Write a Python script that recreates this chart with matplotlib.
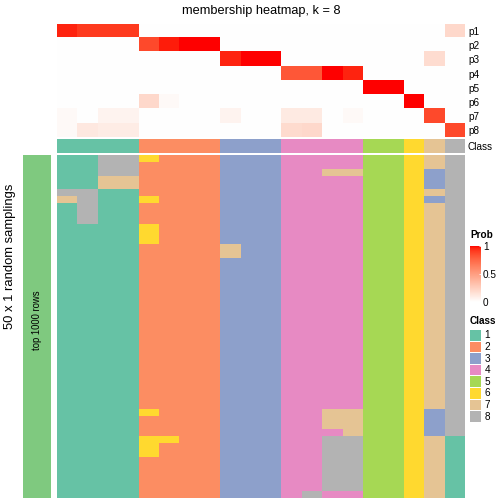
import numpy as np
import matplotlib
matplotlib.use("Agg")
import matplotlib.pyplot as plt
from matplotlib.colors import ListedColormap
from matplotlib.patches import Rectangle

plt.rcParams['font.family'] = ['Liberation Sans', 'DejaVu Sans']

# class colours (1..8)
class_colors = ['#66C2A5', '#FC8D62', '#8DA0CB', '#E78AC3',
                '#A6D854', '#FFD92F', '#E5C494', '#B3B3B3']
class_labels = ['1', '2', '3', '4', '5', '6', '7', '8']

# class of each of the 20 samples
sample_class = [1, 1, 1, 1, 2, 2, 2, 2, 3, 3, 3, 4, 4, 4, 4, 5, 5, 6, 7, 8]

# membership probabilities p1..p8 per sample
row_names = ['p1', 'p2', 'p3', 'p4', 'p5', 'p6', 'p7', 'p8']
p1 = [0.96, 0.91, 0.91, 0.91, 0, 0, 0, 0, 0, 0, 0, 0, 0, 0, 0, 0, 0, 0, 0, 0.2]
p2 = [0, 0, 0, 0, 0.86, 0.97, 1, 1, 0, 0, 0, 0, 0, 0, 0, 0, 0, 0, 0, 0]
p3 = [0, 0, 0, 0, 0, 0, 0, 0, 0.96, 1, 1, 0, 0, 0, 0, 0, 0, 0, 0.18, 0]
p4 = [0, 0, 0, 0, 0, 0, 0, 0, 0, 0, 0, 0.81, 0.81, 1, 0.96, 0, 0, 0, 0, 0]
p5 = [0, 0, 0, 0, 0, 0, 0, 0, 0, 0, 0, 0, 0, 0, 0, 1, 1, 0, 0, 0]
p6 = [0, 0, 0, 0, 0.2, 0.03, 0, 0, 0, 0, 0, 0, 0, 0, 0, 0, 0, 1, 0, 0]
p7 = [0.03, 0, 0.06, 0.06, 0, 0, 0, 0, 0.06, 0, 0, 0.11, 0.11, 0, 0.03, 0, 0, 0, 0.86, 0]
p8 = [0.03, 0.12, 0.1, 0.1, 0, 0, 0, 0, 0, 0, 0, 0.19, 0.2, 0, 0, 0, 0, 0, 0, 0.86]

# 50 random samplings, class assigned to each sample
samplings = [
    "11886222333444455678",
    "11882222333444455678",
    "11882222333447755638",
    "11772222333444455638",
    "11772222333444455638",
    "88112222333444455678",
    "78116222333444455638",
    "18112222333444455678",
    "18112222333444455678",
    "18112222333444455678",
    "11116222333444455678",
    "11116222333444455678",
    "11116222333444455678",
    "11112222733444455678",
    "11112222733444455678",
] + ["11112222333444455678"] * 22 + [
    "11116222333447755638",
    "11112222333447755638",
    "11112222333447755638",
    "11112222333444755638",
    "11116622333448855671",
    "11116222333448855671",
    "11116222333448855671",
    "11112222333448855671",
    "11112222333448855671",
    "11112222333448855671",
    "11112222333448855671",
    "11112222333448855671",
    "11112222333484455671",
]


def lab_ramp(c0, c1, n=256):
    # white -> red interpolated in CIE Lab, like circlize::colorRamp2
    M = np.array([[0.4124, 0.3576, 0.1805],
                  [0.2126, 0.7152, 0.0722],
                  [0.0193, 0.1192, 0.9505]])
    wp = M @ np.ones(3)

    def to_lab(rgb):
        rgb = np.asarray(rgb, float)
        lin = np.where(rgb <= 0.04045, rgb / 12.92, ((rgb + 0.055) / 1.055) ** 2.4)
        xyz = (M @ lin) / wp
        f = np.where(xyz > 0.008856, np.cbrt(xyz), 7.787 * xyz + 16 / 116)
        return np.array([116 * f[1] - 16, 500 * (f[0] - f[1]), 200 * (f[1] - f[2])])

    def to_rgb(lab):
        fy = (lab[0] + 16) / 116
        f = np.array([fy + lab[1] / 500, fy, fy - lab[2] / 200])
        xyz = np.where(f ** 3 > 0.008856, f ** 3, (f - 16 / 116) / 7.787) * wp
        lin = np.linalg.solve(M, xyz)
        lin = np.clip(lin, 0, 1)
        rgb = np.where(lin <= 0.0031308, 12.92 * lin, 1.055 * lin ** (1 / 2.4) - 0.055)
        return np.clip(rgb, 0, 1)

    a, b = to_lab(c0), to_lab(c1)
    return ListedColormap([to_rgb(a + (b - a) * t) for t in np.linspace(0, 1, n)])


prob_cmap = lab_ramp((1, 1, 1), (1, 0, 0))
class_cmap = ListedColormap(class_colors)

W = H = 504.0
fig = plt.figure(figsize=(7, 7), dpi=72)


def px_axes(x0, y0, x1, y1):
    return fig.add_axes([x0 / W, 1 - y1 / H, (x1 - x0) / W, (y1 - y0) / H])


left, right = 57, 465

# membership heatmap
ax_m = px_axes(left, 24, right, 137.5)
memb = np.array([p1, p2, p3, p4, p5, p6, p7, p8])
ax_m.imshow(memb, cmap=prob_cmap, vmin=0, vmax=1, aspect='auto', interpolation='nearest')
ax_m.set_xticks([])
ax_m.set_yticks(range(len(row_names)))
ax_m.set_yticklabels(row_names, fontsize=10)
ax_m.yaxis.tick_right()
ax_m.tick_params(axis='y', length=0, pad=3)
for s in ax_m.spines.values():
    s.set_visible(False)

# class annotation
ax_c = px_axes(left, 138.5, right, 152.7)
ax_c.imshow(np.array([sample_class]) - 1, cmap=class_cmap, vmin=-0.5, vmax=7.5,
            aspect='auto', interpolation='nearest')
ax_c.set_xticks([])
ax_c.set_yticks([0])
ax_c.set_yticklabels(['Class'], fontsize=10)
ax_c.yaxis.tick_right()
ax_c.tick_params(axis='y', length=0, pad=3)
for s in ax_c.spines.values():
    s.set_visible(False)

# random samplings
ax_s = px_axes(left, 155, right, 498)
samp = np.array([[int(ch) for ch in r] for r in samplings])
ax_s.imshow(samp - 1, cmap=class_cmap, vmin=-0.5, vmax=7.5,
            aspect='auto', interpolation='nearest')
ax_s.axis('off')

# left annotation bar
ax_g = px_axes(23, 155, 51, 498)
ax_g.set_facecolor('#7FC97F')
ax_g.set_xticks([])
ax_g.set_yticks([])
for s in ax_g.spines.values():
    s.set_visible(False)
fig.text(37 / W, 1 - 320 / H, 'top 1000 rows', rotation=90, ha='center', va='center',
         fontsize=9.5)

fig.text(10 / W, 1 - 256 / H, '50 x 1 random samplings', rotation=90,
         ha='center', va='center', fontsize=13)
fig.text((left + right) / 2 / W, 1 - 11 / H, 'membership heatmap, k = 8',
         ha='center', va='center', fontsize=12.8)

# legends
fig.text(470 / W, 1 - 235 / H, 'Prob', fontsize=10, fontweight='bold', va='center')
cax = px_axes(470, 246, 481, 302)
cb = fig.colorbar(plt.cm.ScalarMappable(cmap=prob_cmap, norm=plt.Normalize(0, 1)),
                  cax=cax, ticks=[0, 0.5, 1])
cb.outline.set_visible(False)
cb.ax.set_yticklabels(['0', '0.5', '1'], fontsize=10)
cb.ax.tick_params(length=2, color='white', direction='in', pad=2)

fig.text(470 / W, 1 - 320.5 / H, 'Class', fontsize=10, fontweight='bold', va='center')
ax_l = px_axes(470, 330, 504, 423)
ax_l.set_xlim(0, 34)
ax_l.set_ylim(93, 0)
ax_l.axis('off')
for i, (col, lab) in enumerate(zip(class_colors, class_labels)):
    y = i * 11.6
    ax_l.add_patch(Rectangle((0, y), 11, 10.6, facecolor=col, edgecolor='none'))
    ax_l.text(14.5, y + 5.3, lab, fontsize=10, va='center')

fig.savefig('out.png', dpi=72)
